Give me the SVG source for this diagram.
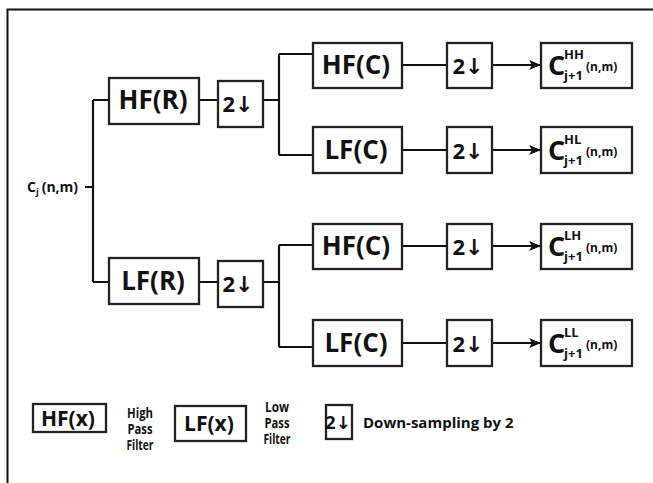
<svg xmlns="http://www.w3.org/2000/svg" width="653" height="483" viewBox="0 0 653 483">
<defs>
<marker id="ah" markerWidth="12" markerHeight="10" refX="11" refY="5" orient="auto" markerUnits="userSpaceOnUse">
<path d="M0,0 L12,5 L0,10 L3,5 Z" fill="#111"/>
</marker>
<style>
.box{fill:#fff;stroke:#222;stroke-width:2.3}
.ln{fill:none;stroke:#111;stroke-width:2.2}
.t{font-family:"Open Sans","DejaVu Sans",sans-serif;font-weight:bold;fill:#111}
.lbl{font-size:26px;text-anchor:middle}
.ds{font-size:22px;text-anchor:middle}
.leg{font-size:13.5px;text-anchor:middle}
.big{font-size:27px}
.sm{font-size:13px}
.nm{font-size:12px}
</style>
</defs>
<rect width="653" height="483" fill="#fff"/>
<path d="M7.5,483 V9.5 H653" fill="none" stroke="#111" stroke-width="2"/>

<g id="connectors">
<path class="ln" d="M85,187 H93 M93,100 V282 M93,100 H109 M93,282 H109"/>
<path class="ln" d="M199,100 H218 M263,100 H279 M279,54 V155 M279,54 H313 M279,155 H313"/>
<path class="ln" d="M199,282 H218 M263,282 H279 M279,245 V347 M279,245 H313 M279,347 H313"/>
<path class="ln" d="M402,65 H447 M402,150 H447 M402,246 H447 M402,343 H447"/>
<path class="ln" d="M492,65 H540" marker-end="url(#ah)"/>
<path class="ln" d="M492,150 H540" marker-end="url(#ah)"/>
<path class="ln" d="M492,246 H540" marker-end="url(#ah)"/>
<path class="ln" d="M492,343 H540" marker-end="url(#ah)"/>
</g>

<g id="input"><text class="t" x="27" y="192" font-size="14">C<tspan font-size="9" dy="3">j</tspan><tspan dy="-3" dx="3">(n,m)</tspan></text></g>

<g id="hfr"><rect class="box" x="109" y="78" width="90" height="46"/><text class="t lbl" x="153" y="109">HF(R)</text></g>
<g id="lfr"><rect class="box" x="109" y="258" width="90" height="46"/><text class="t lbl" x="153" y="290">LF(R)</text></g>
<g id="ds1"><rect class="box" x="218" y="81" width="45" height="46"/><text class="t ds" x="238" y="112">2↓</text></g>
<g id="ds2"><rect class="box" x="218" y="261" width="45" height="46"/><text class="t ds" x="238" y="292">2↓</text></g>

<g id="hfc1"><rect class="box" x="313" y="43" width="89" height="45"/><text class="t lbl" x="356" y="74">HF(C)</text></g>
<g id="lfc1"><rect class="box" x="313" y="127" width="89" height="46"/><text class="t lbl" x="356" y="159">LF(C)</text></g>
<g id="hfc2"><rect class="box" x="313" y="224" width="89" height="45"/><text class="t lbl" x="356" y="255">HF(C)</text></g>
<g id="lfc2"><rect class="box" x="313" y="320" width="89" height="46"/><text class="t lbl" x="356" y="352">LF(C)</text></g>

<g id="ds3"><rect class="box" x="447" y="43" width="45" height="45"/><text class="t ds" x="468" y="74">2↓</text></g>
<g id="ds4"><rect class="box" x="447" y="127" width="45" height="46"/><text class="t ds" x="468" y="159">2↓</text></g>
<g id="ds5"><rect class="box" x="447" y="224" width="45" height="45"/><text class="t ds" x="468" y="255">2↓</text></g>
<g id="ds6"><rect class="box" x="447" y="320" width="45" height="46"/><text class="t ds" x="468" y="352">2↓</text></g>

<g id="chh"><rect class="box" x="541" y="43" width="91" height="45"/>
<text class="t big" x="548" y="75">C</text>
<text class="t sm" x="564" y="59">HH</text>
<text class="t sm" x="564" y="80">j+1</text>
<text class="t nm" x="586" y="71">(n,m)</text></g>
<g id="chl"><rect class="box" x="541" y="127" width="91" height="46"/>
<text class="t big" x="548" y="160">C</text>
<text class="t sm" x="564" y="144">HL</text>
<text class="t sm" x="564" y="165">j+1</text>
<text class="t nm" x="586" y="156">(n,m)</text></g>
<g id="clh"><rect class="box" x="541" y="224" width="91" height="45"/>
<text class="t big" x="548" y="256">C</text>
<text class="t sm" x="564" y="240">LH</text>
<text class="t sm" x="564" y="261">j+1</text>
<text class="t nm" x="586" y="252">(n,m)</text></g>
<g id="cll"><rect class="box" x="541" y="320" width="91" height="46"/>
<text class="t big" x="548" y="353">C</text>
<text class="t sm" x="564" y="337">LL</text>
<text class="t sm" x="564" y="358">j+1</text>
<text class="t nm" x="586" y="349">(n,m)</text></g>

<g id="legend-hf"><rect class="box" x="33" y="404" width="73" height="28"/><text class="t" x="68" y="426" font-size="21" text-anchor="middle">HF(x)</text>
<text class="t leg" x="140" y="418" textLength="26" lengthAdjust="spacingAndGlyphs">High</text><text class="t leg" x="140" y="434" textLength="25" lengthAdjust="spacingAndGlyphs">Pass</text><text class="t leg" x="140" y="450" textLength="27" lengthAdjust="spacingAndGlyphs">Filter</text></g>
<g id="legend-lf"><rect class="box" x="175" y="406" width="71" height="35"/><text class="t" x="209" y="431" font-size="21" text-anchor="middle">LF(x)</text>
<text class="t leg" x="277" y="412" textLength="24" lengthAdjust="spacingAndGlyphs">Low</text><text class="t leg" x="277" y="428" textLength="25" lengthAdjust="spacingAndGlyphs">Pass</text><text class="t leg" x="277" y="444" textLength="27" lengthAdjust="spacingAndGlyphs">Filter</text></g>
<g id="legend-ds"><rect class="box" x="326" y="405" width="26" height="34"/><text class="t" x="338" y="429" font-size="18" text-anchor="middle">2↓</text>
<text class="t" x="363" y="428" font-size="15">Down-sampling by 2</text></g>
</svg>
